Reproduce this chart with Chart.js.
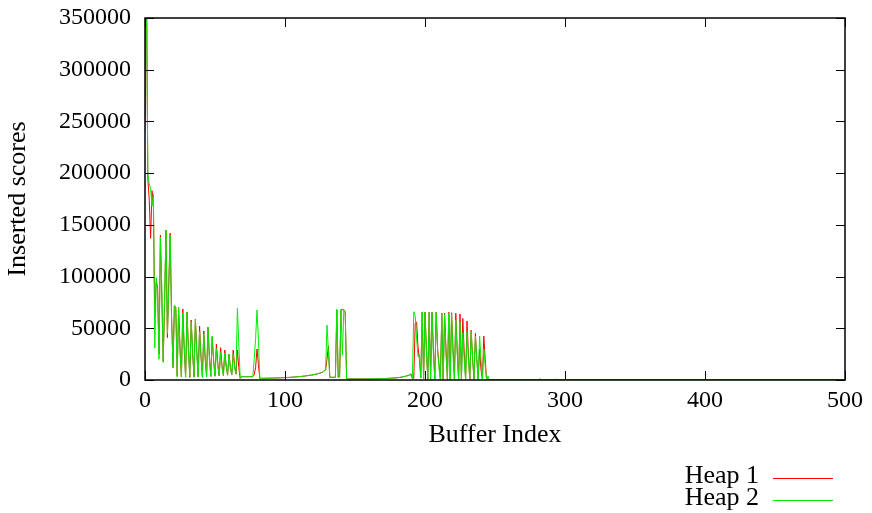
<!DOCTYPE html>
<html>
<head>
<meta charset="utf-8">
<script src="https://cdn.jsdelivr.net/npm/chart.js@4/dist/chart.umd.min.js"></script>
<style>
html,body{margin:0;padding:0;background:#fff;}
#wrap{width:872px;height:513px;position:relative;}
</style>
</head>
<body>
<div id="wrap"><canvas id="c" width="872" height="513"></canvas></div>
<script>
// Buffer indices 0..250 (contiguous), then a sparse tail
const heap1 = [
 250000,400000,195000,175000,137000,183000,168000,60000,95000,90000,
 25000,140000,80000,18000,75000,145000,41000,95000,142000,60000,
 12000,72000,70000,4000,70000,32000,3000,68700,30000,3000,
 65800,32000,2500,58000,26000,3000,59000,28000,3000,52000,
 22000,3000,47400,20000,3500,51000,23000,3500,42000,18000,
 4000,34800,16000,4000,31300,14000,4500,29000,13000,5000,
 25000,12000,5000,29000,14000,6000,29000,12000,1600,3200,
 3200,3200,3200,3200,3200,3200,3200,3200,5000,12000,
 30000,15000,1600,1600,1600,1650,1700,1700,1750,1800,
 1800,1850,1900,1950,2000,2050,2100,2150,2200,2250,
 2300,2400,2450,2500,2600,2700,2800,2900,3000,3100,
 3200,3350,3500,3650,3800,4000,4200,4400,4600,4800,
 5000,5300,5600,5900,6300,6700,7200,7800,8500,10000,
 20000,33000,2600,2600,2600,2600,2600,68000,2500,3000,
 68000,68000,68000,66000,1000,1000,1000,1000,1000,1000,
 1000,1000,1000,1000,1000,1000,1000,1000,1000,1000,
 1000,1100,1100,1150,1200,1200,1250,1300,1300,1350,
 1400,1450,1500,1550,1600,1650,1750,1850,1950,2050,
 2200,2350,2500,2700,3000,3300,3600,4000,4400,4800,
 6000,1600,1600,55000,56000,32000,20000,2000,65500,1000,
 65500,30000,500,65500,500,65500,30000,500,65500,30000,
 15000,500,64500,500,64500,30000,500,65500,500,65000,
 30000,500,64500,30000,500,63800,500,59600,28000,500,
 57000,25000,500,48300,20000,500,45000,20000,500,30000,
 10000,500,42500,20000,500,1000,300,300,300,300,
 300
];
const heap2 = [
 240000,400000,200000,190000,185000,168000,180000,31000,99000,85000,
 20000,138000,90000,17000,80000,145000,45000,90000,140000,58000,
 12000,72000,68000,3000,70000,28000,3000,64800,34000,2500,
 65800,28000,3000,56400,30000,2500,59000,25000,3000,46700,
 24000,2500,44500,22000,3000,51000,20000,3500,42000,20000,
 3500,30300,14000,4000,26400,12000,4000,25800,14000,4500,
 25000,11000,5000,25000,12000,5500,69300,35000,1600,3200,
 3200,3200,3200,3200,3200,3200,3200,3200,20000,40000,
 67700,40000,1600,1600,1600,1650,1700,1700,1750,1800,
 1800,1850,1900,1950,2000,2050,2100,2150,2200,2250,
 2300,2400,2450,2500,2600,2700,2800,2900,3000,3100,
 3200,3350,3500,3650,3800,4000,4200,4400,4600,4800,
 5000,5300,5600,5900,6300,6700,7200,7800,8500,10000,
 53000,28000,2600,2600,2600,2600,2600,68000,2500,3000,
 68000,24000,68000,66000,1000,1000,1000,1000,1000,1000,
 1000,1000,1000,1000,1000,1000,1000,1000,1000,1000,
 1000,1100,1100,1150,1200,1200,1250,1300,1300,1350,
 1400,1450,1500,1550,1600,1650,1750,1850,1950,2050,
 2200,2350,2500,2700,3000,3300,3600,4000,4400,4800,
 5000,1600,66000,62000,40000,22500,25000,2000,65500,1000,
 65500,28000,500,65500,500,65500,25000,500,65000,28000,
 12000,500,63500,500,63500,25000,500,64500,500,64000,
 25000,500,58000,26000,500,56000,500,45700,20000,500,
 46700,20000,500,47500,22000,500,42500,20000,500,42500,
 20000,500,29700,14000,500,3900,300,300,300,300,
 300
];
const tailIndex = [281, 282, 283, 293, 294, 295, 499];
const tailHeap1 = [300, 300, 300, 300, 300, 300, 300];
const tailHeap2 = [300, 1200, 300, 300, 800, 300, 300];

const xTicks = [0, 100, 200, 300, 400, 500];
const yTicks = [0, 50000, 100000, 150000, 200000, 250000, 300000, 350000];
const seriesNames = ['Heap 1', 'Heap 2'];
const seriesColors = ['#ff0000', '#00ee00'];

function toPoints(main, tail) {
  return main.map((v, i) => ({x: i, y: v}))
    .concat(tailIndex.map((x, k) => ({x: x, y: tail[k]})));
}

const FONT = "'Liberation Serif', 'Times New Roman', serif";

const framePlugin = {
  id: 'frame',
  afterDatasetsDraw(chart) {
    const {ctx, chartArea: a, scales: {x, y}} = chart;
    ctx.save();
    ctx.strokeStyle = '#000';
    ctx.lineWidth = 1;
    ctx.beginPath();
    xTicks.forEach(v => {
      const px = Math.round(x.getPixelForValue(v)) + 0.5;
      ctx.moveTo(px, a.bottom); ctx.lineTo(px, a.bottom - 9);
      ctx.moveTo(px, a.top); ctx.lineTo(px, a.top + 9);
    });
    yTicks.forEach(v => {
      const py = Math.round(y.getPixelForValue(v)) + 0.5;
      ctx.moveTo(a.left, py); ctx.lineTo(a.left + 9, py);
      ctx.moveTo(a.right, py); ctx.lineTo(a.right - 9, py);
    });
    ctx.stroke();
    ctx.lineWidth = 1.5;
    ctx.strokeRect(a.left, a.top, a.right - a.left, a.bottom - a.top);
    ctx.restore();
  },
  afterDraw(chart) {
    const ctx = chart.ctx;
    ctx.save();
    ctx.font = "26px " + FONT;
    ctx.fillStyle = '#000';
    ctx.textAlign = 'right';
    ctx.textBaseline = 'alphabetic';
    const rows = [483, 505];
    seriesNames.forEach((name, k) => {
      ctx.fillText(name, 759, rows[k]);
      ctx.strokeStyle = seriesColors[k];
      ctx.lineWidth = 1;
      ctx.beginPath();
      const ly = rows[k] - 4.5;
      ctx.moveTo(773, ly); ctx.lineTo(833, ly);
      ctx.stroke();
    });
    ctx.restore();
  }
};

new Chart(document.getElementById('c'), {
  type: 'line',
  data: {
    datasets: [
      {label: seriesNames[0], data: toPoints(heap1, tailHeap1), borderColor: seriesColors[0],
       borderWidth: 1, pointRadius: 0, tension: 0, order: 1},
      {label: seriesNames[1], data: toPoints(heap2, tailHeap2), borderColor: seriesColors[1],
       borderWidth: 1, pointRadius: 0, tension: 0, order: 0}
    ]
  },
  options: {
    responsive: false,
    animation: false,
    devicePixelRatio: 1,
    layout: {padding: {top: 18, right: 27, bottom: 60, left: 0}},
    plugins: {legend: {display: false}, tooltip: {enabled: false}},
    scales: {
      x: {
        type: 'linear', min: 0, max: 500,
        afterBuildTicks: s => { s.ticks = xTicks.map(v => ({value: v})); },
        afterFit: s => { s.height = 73; s.paddingLeft = 0; s.paddingRight = 0; },
        grid: {display: false, drawTicks: false},
        border: {display: false},
        ticks: {color: '#000', padding: 6, maxRotation: 0, font: {family: FONT, size: 24},
                callback: v => String(v)},
        title: {display: true, text: 'Buffer Index', color: '#000', font: {family: FONT, size: 26},
                padding: {top: 4, bottom: 2}}
      },
      y: {
        type: 'linear', min: 0, max: 350000,
        afterBuildTicks: s => { s.ticks = yTicks.map(v => ({value: v})); },
        afterFit: s => { s.width = 145; s.paddingTop = 0; s.paddingBottom = 0; },
        grid: {display: false, drawTicks: false},
        border: {display: false},
        ticks: {color: '#000', padding: 14, font: {family: FONT, size: 24},
                callback: v => String(v)},
        title: {display: true, text: 'Inserted scores', color: '#000', font: {family: FONT, size: 26},
                padding: {top: 3, bottom: 4}}
      }
    }
  },
  plugins: [framePlugin]
});
</script>
</body>
</html>
